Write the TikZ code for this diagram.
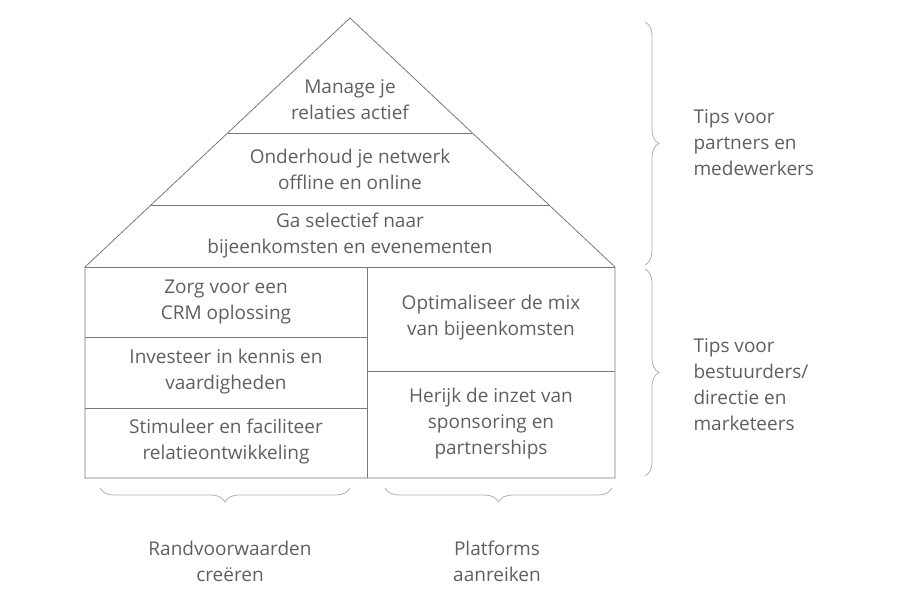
\documentclass[tikz,border=0pt]{standalone}
\usepackage{fontspec}
\setmainfont{Open Sans}
\usetikzlibrary{decorations.pathreplacing,calc}
\definecolor{txtgray}{RGB}{95,95,95}
\definecolor{linegray}{RGB}{120,120,120}
\definecolor{bracegray}{RGB}{175,175,175}
\tikzset{%
    lbl/.style={text=txtgray, align=center, font=\fontsize{19}{26}\selectfont},
    side/.style={text=txtgray, align=left, anchor=west, font=\fontsize{19}{26}\selectfont},
    bracket/.style={draw=bracegray, thick, decorate, decoration={brace, amplitude=14pt}}
}
\begin{document}
\begin{tikzpicture}[x=1pt,y=-1pt]
    \useasboundingbox (0,0) rectangle (900,599);
    % house outline
    \coordinate (apex) at (350,18);
    \coordinate (bl) at (85,478);
    \coordinate (br) at (615,478);
    \coordinate (el) at (85,267);
    \coordinate (er) at (615,267);
    \draw[linegray, thick, line join=miter] (el) -- (apex) -- (er) -- (br) -- (bl) -- cycle;
    \draw[linegray, thick] (el) -- (er);
    \draw[linegray, thick] ($(apex)!115/249!(el)$) -- ($(apex)!115/249!(er)$);
    \draw[linegray, thick] ($(apex)!187/249!(el)$) -- ($(apex)!187/249!(er)$);
    \draw[linegray, thick] (367,267) -- (367,478);
    \draw[linegray, thick] (85,337) -- (367,337);
    \draw[linegray, thick] (85,408) -- (367,408);
    \draw[linegray, thick] (367,371) -- (615,371);
    % texts
    \node[lbl] (manage) at (350,100) {Manage je\\relaties actief};
    \node[lbl] (onderhoud) at (350,169) {Onderhoud je netwerk\\offline en online};
    \node[lbl] (selectief) at (350,236) {Ga selectief naar\\bijeenkomsten en evenementen};
    \node[lbl] (crm) at (226,302) {Zorg voor een\\CRM oplossing};
    \node[lbl] (kennis) at (226,372) {Investeer in kennis en\\vaardigheden};
    \node[lbl] (stimuleer) at (226,442) {Stimuleer en faciliteer\\relatieontwikkeling};
    \node[lbl] (mix) at (491,318) {Optimaliseer de mix\\van bijeenkomsten};
    \node[lbl] (herijk) at (491,424) {Herijk de inzet van\\sponsoring en\\partnerships};
    % braces
    \coordinate (b1t) at (645,22);
    \coordinate (b1b) at (645,265);
    \coordinate (b2t) at (645,269);
    \coordinate (b2b) at (645,476);
    \coordinate (b3l) at (100,488);
    \coordinate (b3r) at (350,488);
    \coordinate (b4l) at (385,488);
    \coordinate (b4r) at (612,488);
    \draw[bracket] (b1t) -- (b1b);
    \draw[bracket] (b2t) -- (b2b);
    \draw[bracket] (b3r) -- (b3l);
    \draw[bracket] (b4r) -- (b4l);
    \node[side] (partners) at (690,143) {Tips voor\\partners en\\medewerkers};
    \node[side] (bestuur) at (690,385) {Tips voor\\bestuurders/\\directie en\\marketeers};
    \node[lbl] (randvw) at (230,561) {Randvoorwaarden\\creëren};
    \node[lbl] (platforms) at (497,561) {Platforms\\aanreiken};
\end{tikzpicture}
\end{document}
